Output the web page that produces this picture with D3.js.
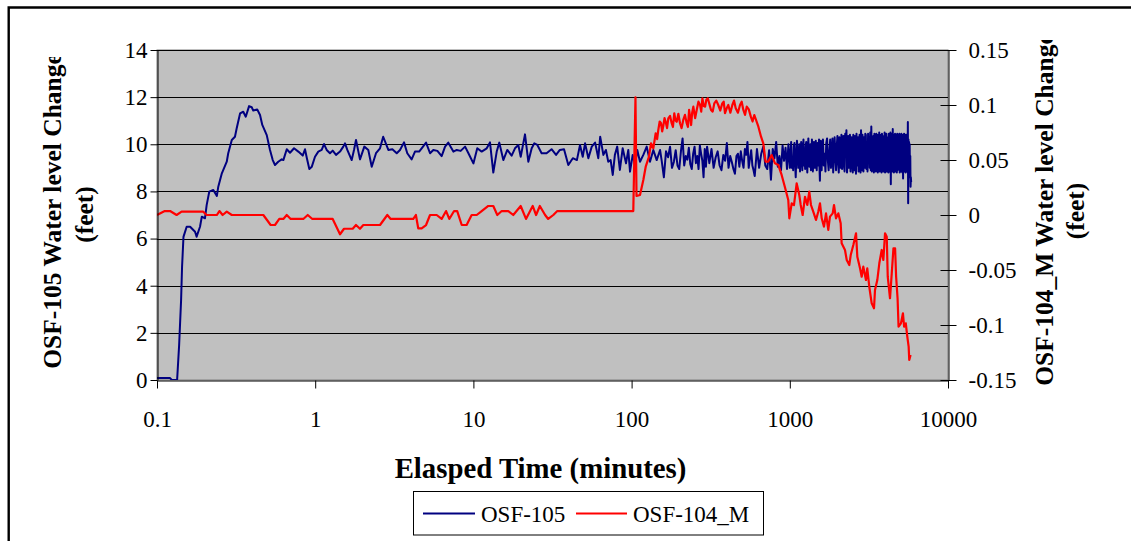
<!DOCTYPE html>
<html><head><meta charset="utf-8">
<script src="https://cdn.jsdelivr.net/npm/d3@7"></script>
<style>
body{margin:0;background:#fff;}
svg{display:block;font-family:"Liberation Serif","Times New Roman",serif;}
</style>
</head><body>
<svg id="chart" width="1131" height="541"></svg>
<script>
// ---------- data ----------
const xTicks = [0.1, 1, 10, 100, 1000, 10000];
const xTickLabels = ["0.1", "1", "10", "100", "1000", "10000"];
const leftTicks = [0, 2, 4, 6, 8, 10, 12, 14];
const rightTicks = [-0.15, -0.1, -0.05, 0, 0.05, 0.1, 0.15];
const rightTickLabels = ["-0.15", "-0.1", "-0.05", "0", "0.05", "0.1", "0.15"];
const seriesNames = ["OSF-105", "OSF-104_M"];
const xTitle = "Elasped Time (minutes)";
const leftTitle = ["OSF-105 Water level Change", "(feet)"];
const rightTitle = ["OSF-104_M Water level Change", "(feet)"];

// OSF-105: [elapsed minutes, water level change (feet)] - left axis
const osf105 = [
[0.100,0.08],[0.121,0.08],[0.124,0],[0.134,0],[0.138,1.48],[0.142,3.39],[0.144,4.79],[0.147,6.07],[0.154,6.50],[0.162,6.50],
[0.174,6.29],[0.178,6.08],[0.187,6.50],[0.192,6.93],[0.201,6.86],[0.206,7.42],[0.214,7.99],[0.227,8.06],[0.239,7.81],[0.244,8.20],
[0.257,8.77],[0.276,9.26],[0.282,9.62],[0.297,10.18],[0.311,10.32],[0.319,10.68],[0.335,11.31],[0.351,11.38],[0.364,11.17],[0.382,11.62],
[0.397,11.57],[0.406,11.43],[0.430,11.48],[0.448,11.24],[0.463,10.82],[0.494,10.39],[0.518,9.76],[0.539,9.33],[0.557,9.12],[0.584,9.26],
[0.614,9.36],[0.629,9.33],[0.661,9.79],[0.693,9.64],[0.735,9.83],[0.782,9.69],[0.834,9.52],[0.862,9.79],[0.886,9.41],[0.918,8.95],
[0.952,9.05],[0.997,9.47],
[1.046,9.69],[1.099,9.76],[1.137,10.01],[1.182,9.76],[1.240,9.62],[1.29,9.73],[1.354,9.55],[1.435,9.69],[1.505,9.90],[1.543,10.04],
[1.596,9.76],[1.701,9.33],[1.759,9.76],[1.811,10.18],[1.919,9.36],[2.044,9.90],[2.166,9.76],[2.277,9.05],[2.423,9.62],[2.569,9.83],
[2.69,10.32],[2.90,9.76],[3.075,9.79],[3.276,9.62],[3.436,9.76],[3.643,10.08],[3.82,9.62],[4.07,9.36],[4.273,9.69],[4.54,9.69],
[4.71,9.83],[5.02,10.07],[5.32,9.62],[5.58,9.76],[5.92,9.72],[6.30,9.50],[6.62,9.90],[6.94,10.07],[7.47,9.69],[7.85,9.76],
[8.31,9.72],[8.86,9.90],[9.30,9.62],[10.0,9.19],
[10.58,9.83],[11.28,9.69],[12.14,9.83],[12.73,10.08],[13.36,8.80],[14.04,9.69],[14.58,10.07],[15.46,9.33],[16.38,9.76],[17.45,9.52],
[18.32,9.83],[19.23,9.97],[19.91,9.47],[21.19,10.42],[22.24,9.26],[23.36,9.83],[24.27,10.04],[25.36,9.97],[26.99,9.62],[29.0,9.62],
[31.2,9.79],[33.3,9.55],[35.2,9.76],[37.4,9.79],[39.8,9.12],[42.5,9.41],[45.1,9.33],[47.2,9.97],[49.1,9.47],[50.8,10.04],
[53.3,9.41],[56.0,9.90],[58.8,10.07],[61.6,9.41],[63.3,10.32],[66.3,9.55],[68.8,9.76],[71.2,9.26],[73.7,9.33],[76.0,8.70],
[78.4,9.55],[81.1,9.90],[84.3,8.91],[87.8,9.83],[92.2,9.19],[95.3,9.76],[97.7,8.84],
[101.6,9.55],[105.1,9.12],[108.6,9.76],[113,9.26],[118.6,9.55],[124.6,9.90],[130.7,9.26],[137.2,9.76],[144.1,9.33],[151.3,9.76],
[155,9.3],[160,8.6],[165,9.7],[170,9.45],[175,9.9],[180,9.0],[185,9.25],[190,9.75],[195,9.1],[200,8.95],
[205,9.7],[210,10.25],[215,9.1],[220,9.5],[225,9.35],[230,9.85],[235,9.15],[240,8.95],[245,9.6],[250,9.9],
[255,9.2],[260,9.5],[265,8.95],[270,9.95],[275,9.6],[280,9.3],[285,8.6],[290,9.8],[295,9.05],[300,9.9],
[310,9.2],[320,9.8],[330,9.0],[340,9.45],[350,9.7],[360,9.1],[370,8.9],[380,9.55],[390,9.3],[400,10.05],
[410,9.0],[420,9.5],[430,9.25],[440,8.95],[450,8.75],[460,9.5],[470,9.6],[480,9.05],[490,9.7],[500,9.3],
[510,9.0],[520,9.8],[530,9.55],[540,10.1],[550,9.0],[560,9.4],[570,9.75],[580,9.1],[590,8.9],[600,8.65],
[620,9.8],[640,9.0],[660,9.6],[680,9.9],[700,9.1],[720,8.95],[740,9.75],[760,8.5],[780,9.8],[800,9.4],
[820,10.1],[840,9.05],[860,9.5],[880,8.9],[900,9.95],[920,9.3],[940,9.85],[960,8.95],[980,10.0],[1000,9.0],
[1010,9.6],[1020,10.1],[1030,9.0],[1040,9.4],[1050,8.9],[1060,9.9],[1070,10.05],[1080,9.2],[1090,8.6],[1100,9.5],
[1110,10.15],[1120,9.7],[1130,9.0],[1140,9.3],[1150,10.0],[1160,8.85],[1170,9.6],[1180,10.1],[1190,9.4],[1200,8.9],
[1210,9.8],[1220,10.2],[1230,9.1],[1240,9.55],[1250,8.95],[1260,9.9],[1270,10.1],[1280,9.3],[1290,8.8],[1300,9.65],
[1310,10.25],[1320,9.5],[1330,9.05],[1340,9.85],[1350,10.0],[1360,8.9],[1370,9.4],[1380,10.2],[1390,9.7],[1400,8.85],
[1410,9.6],[1420,10.1],[1430,9.2],[1440,9.0],[1450,9.95],[1460,10.15],[1470,9.35],[1480,8.9],[1490,9.75],[1500,10.05],
[1510,9.1],[1520,9.5],[1530,10.2],[1540,9.0],[1550,8.45],[1560,9.6],[1570,10.15],[1580,9.4],[1590,8.9],[1600,9.8],
[1620,10.2],[1640,9.1],[1660,9.6],[1680,8.85],[1700,10.05],[1720,10.25],[1740,9.3],[1760,8.9],[1780,9.7],[1800,10.2],
[1820,9.0],[1840,9.5],[1860,10.25],[1880,8.8],[1900,9.4],[1920,10.3],[1940,9.65],[1960,8.9],[1980,9.9],[2000,10.35],
[2020,9.2],[2040,8.8],[2060,10.3],[2080,9.6],[2100,9.0],[2120,10.4],[2140,8.95],[2160,9.7],[2180,10.35],[2200,9.1],
[2220,8.85],[2240,10.45],[2260,9.5],[2280,10.6],[2300,8.8],[2320,9.4],[2340,10.35],[2360,9.0],[2380,9.8],[2400,10.4],
[2420,8.85],[2440,9.3],[2460,10.3],[2480,9.7],[2500,8.8],[2520,10.4],[2540,9.2],[2560,8.9],[2580,10.35],[2600,9.55],
[2620,8.75],[2640,10.45],[2660,9.1],[2680,9.9],[2700,10.3],[2720,8.85],[2740,9.5],[2760,10.4],[2780,9.0],[2800,8.8],
[2820,10.6],[2840,9.3],[2860,8.9],[2880,10.4],[2900,9.75],[2920,8.85],[2940,10.3],[2960,9.4],[2980,9.0],[3000,10.45],
[3025,10.4],[3050,8.95],[3075,9.9],[3100,8.85],[3125,10.45],[3150,9.3],[3175,10.3],[3200,9.0],[3225,10.5],[3250,8.9],
[3275,10.75],[3300,8.85],[3325,9.8],[3350,8.95],[3375,10.35],[3400,8.8],[3425,10.45],[3450,9.4],[3475,10.3],[3500,8.85],
[3525,10.45],[3550,8.9],[3575,10.4],[3600,8.8],[3625,9.7],[3650,9.0],[3675,10.5],[3700,8.85],[3725,10.4],[3750,9.35],
[3775,10.3],[3800,8.8],[3825,10.45],[3850,8.9],[3875,9.85],[3900,8.85],[3925,10.35],[3950,9.0],[3975,10.5],[4000,8.8],
[4025,10.4],[4050,9.3],[4075,10.45],[4100,8.85],[4125,10.3],[4150,8.9],[4175,9.9],[4200,8.8],[4225,10.45],[4250,9.0],
[4275,10.35],[4300,8.85],[4325,10.5],[4350,8.3],[4375,10.4],[4400,8.9],[4425,10.45],[4450,8.85],[4475,10.65],[4500,8.95],
[4525,10.4],[4550,8.8],[4575,9.8],[4600,8.9],[4625,10.45],[4650,8.85],[4675,10.4],[4700,9.0],[4725,10.35],[4750,8.8],
[4775,10.45],[4800,8.9],[4825,10.4],[4850,9.3],[4875,10.3],[4900,8.95],[4925,10.45],[4950,8.8],[4975,10.4],[5000,8.9],
[5025,10.35],[5050,8.85],[5075,10.45],[5100,8.9],[5125,10.4],[5150,8.8],[5175,10.35],[5200,8.55],[5225,10.4],[5250,8.9],
[5275,10.45],[5300,8.85],[5325,10.3],[5350,8.9],[5375,10.4],[5400,8.8],[5425,10.35],[5450,8.95],[5475,10.4],[5500,8.85],
[5525,10.3],[5550,8.9],[5575,10.95],[5600,7.5],[5625,10.2],[5650,8.6],[5675,10.1],[5700,8.9],[5725,10.0],[5750,8.7],
[5775,9.5],[5800,8.2],[5825,8.6],[5850,8.4]
];

// OSF-104_M: [elapsed minutes, water level change (feet)] - right axis
const osf104 = [
[0.100,0.0],[0.112,0.0036],[0.121,0.0036],[0.133,0.0],[0.143,0.003],[0.196,0.003],[0.206,0.0],[0.239,0.0],[0.248,0.0036],[0.260,0.0],
[0.276,0.003],[0.297,0.0],[0.470,0.0],[0.523,-0.0091],[0.557,-0.0091],[0.593,-0.0036],[0.629,-0.0036],[0.661,0.0],[0.700,-0.0036],[0.841,-0.0036],
[0.897,0.0],[0.959,-0.0036],[1.29,-0.0036],[1.435,-0.0175],[1.521,-0.0125],[1.726,-0.0125],[1.811,-0.0091],[1.919,-0.0125],[2.014,-0.0091],[2.569,-0.0091],
[2.856,0.0],[3.0,-0.0036],[4.17,-0.0036],[4.33,0.0],[4.48,-0.0121],[4.71,-0.0121],[5.02,-0.0091],[5.32,0.0],[5.86,0.0],[6.30,-0.0036],
[6.72,0.0036],[7.04,-0.0036],[7.55,0.0036],[7.90,0.0036],[8.44,-0.0091],[9.06,-0.0091],[9.75,0.0],[10.49,0.0],[11.28,0.0036],[12.42,0.0082],
[13.36,0.0082],[14.16,0.0],[15.10,0.0036],[16.62,0.0036],[17.86,0.0],[19.91,0.0082],[21.5,-0.0036],[23.7,0.0082],[24.9,0.0],[26.3,0.0082],
[28.4,0.0],[29.7,-0.0036],[32.0,0.0],[33.9,0.0036],[102.5,0.0036],[105.8,0.107],[107.4,0.0173],[113,0.0182],[118.6,0.0318],[122.8,0.0439],
[128.8,0.053],[132.7,0.0652],[137.2,0.0606],[142.0,0.0743],[145,0.069],[147.5,0.0773],[150.5,0.085],[153.4,0.0834],[156,0.076],[158.6,0.0809],
[161.5,0.088],[164.2,0.0848],[167.5,0.079],[170.6,0.0879],[175,0.09],[179.2,0.0834],[182.5,0.08],[186.1,0.0925],[189.5,0.086],[192.9,0.0848],
[197.5,0.092],[202.3,0.0834],[207,0.079],[212.1,0.0864],[217.5,0.091],[223.0,0.0834],[227,0.08],[230.9,0.0955],[234.5,0.089],[237.8,0.0818],
[241.5,0.093],[245.6,0.0985],[252,0.088],[258.0,0.0955],[264.5,0.103],[270.9,0.1],[275.5,0.094],[280.2,0.1061],[286,0.099],[291.6,0.0985],
[297,0.105],[303.1,0.1061],[310,0.101],[317.7,0.0955],[325.5,0.094],[333.3,0.1015],[343,0.104],[353.0,0.1],[363.5,0.095],[374.3,0.1015],
[382,0.103],[389.4,0.0925],[399,0.097],[408.6,0.1],[421,0.093],[433.4,0.1],[444,0.104],[455.1,0.097],[470,0.093],[484.5,0.1],
[496.5,0.103],[508.6,0.0955],[521.5,0.091],[534.3,0.0985],[550.5,0.096],[567.0,0.0894],[581.5,0.085],[596.6,0.0909],[633,0.0803],[658,0.0712],
[680,0.0652],[703,0.0485],[730,0.0485],[768,0.0545],[806,0.047],[845,0.0455],[888,0.0364],[930,0.0257],[978,0.0136],[993,-0.003],
[1028,0.0106],[1063,0.0091],[1105,0.0288],[1148,0.0182],[1172,0.0091],[1206,0.0],[1248,0.0166],[1290,0.0091],[1328,0.0212],[1361,0.0091],
[1407,0.003],[1464,-0.0045],[1513,0.003],[1552,0.0106],[1591,-0.003],[1645,-0.0106],[1694,0.0015],[1751,-0.0136],[1795,-0.0015],[1867,0.0015],
[1903,0.0091],[1959,-0.003],[2026,0.0015],[2097,-0.0075],[2127,-0.0257],[2233,-0.0318],[2290,-0.0409],[2377,-0.0455],[2427,-0.0364],[2521,-0.0273],
[2622,-0.0166],[2672,-0.0379],[2779,-0.0485],[2847,-0.0561],[2915,-0.047],[3030,-0.0591],[3088,-0.0485],[3180,-0.0652],[3294,-0.0803],[3406,-0.0848],
[3456,-0.0682],[3574,-0.0591],[3680,-0.0439],[3810,-0.0318],[3903,-0.0409],[4000,-0.0166],[4100,-0.0197],[4160,-0.0561],[4300,-0.0757],[4410,-0.053],
[4520,-0.0303],[4630,-0.0303],[4700,-0.0561],[4800,-0.0757],[4870,-0.1015],[5040,-0.0985],[5190,-0.0894],[5280,-0.1015],[5410,-0.0985],[5530,-0.1106],
[5640,-0.1197],[5690,-0.1318],[5800,-0.1273]
];

// ---------- layout ----------
const W = 1131, H = 541;
const plot = {left: 157, right: 948, top: 50, bottom: 380};
const fontTick = 23, fontTitle = 25.5;

const svg = d3.select("#chart");
const x = d3.scaleLog().domain([0.1, 10000]).range([plot.left, plot.right]);
const yL = d3.scaleLinear().domain([0, 14]).range([plot.bottom, plot.top]);
const yR = d3.scaleLinear().domain([-0.15, 0.15]).range([plot.bottom, plot.top]);

// outer frame (top and left edge visible)
svg.append("path").attr("d", `M8.7,${H} V7.5 H${W}`)
  .attr("fill", "none").attr("stroke", "#000").attr("stroke-width", 2.4);

// plot area
svg.append("rect").attr("x", plot.left).attr("y", plot.top)
  .attr("width", plot.right - plot.left).attr("height", plot.bottom - plot.top)
  .attr("fill", "#c0c0c0").attr("stroke", "#808080").attr("stroke-width", 1);

// gridlines
svg.append("g").selectAll("line").data(leftTicks.filter(d => d > 0)).join("line")
  .attr("x1", plot.left).attr("x2", plot.right)
  .attr("y1", d => Math.round(yL(d)) + 0.5).attr("y2", d => Math.round(yL(d)) + 0.5)
  .attr("stroke", "#000").attr("stroke-width", 1);

// clip for data
svg.append("clipPath").attr("id", "plotclip").append("rect")
  .attr("x", plot.left).attr("y", plot.top - 2)
  .attr("width", plot.right - plot.left).attr("height", plot.bottom - plot.top + 2);

const lineL = d3.line().x(d => x(d[0])).y(d => yL(d[1]));
const lineR = d3.line().x(d => x(d[0])).y(d => yR(d[1]));
const colors = ["#000080", "#ff0000"];

const gData = svg.append("g").attr("clip-path", "url(#plotclip)");
gData.append("path").datum(osf105).attr("d", lineL)
  .attr("fill", "none").attr("stroke", colors[0]).attr("stroke-width", 2).attr("stroke-linejoin", "round");
gData.append("path").datum(osf104).attr("d", lineR)
  .attr("fill", "none").attr("stroke", colors[1]).attr("stroke-width", 2.2).attr("stroke-linejoin", "round");

// axes
function styleAxis(g) {
  g.selectAll("text").attr("font-size", fontTick).attr("fill", "#000")
    .attr("font-family", "'Liberation Serif','Times New Roman',serif");
  g.selectAll("line").attr("stroke", "#000");
  g.select(".domain").attr("stroke", "#000");
}
const axL = svg.append("g").attr("transform", `translate(${plot.left + 0.5},0)`)
  .call(d3.axisLeft(yL).tickValues(leftTicks).tickSize(7).tickSizeOuter(0).tickPadding(3).tickFormat(d3.format("d")));
styleAxis(axL);

const axR = svg.append("g").attr("transform", `translate(${plot.right + 0.5},0)`)
  .call(d3.axisRight(yR).tickValues(rightTicks).tickSize(8).tickSizeOuter(0).tickPadding(12)
    .tickFormat((d, i) => rightTickLabels[i]));
axR.selectAll(".tick line").attr("x1", -8).attr("x2", 8);
styleAxis(axR);

const axB = svg.append("g").attr("transform", `translate(0,${plot.bottom + 0.5})`)
  .call(d3.axisBottom(x).tickValues(xTicks).tickSize(8).tickSizeOuter(0).tickPadding(22)
    .tickFormat((d, i) => xTickLabels[i]));
styleAxis(axB);

// x title
svg.append("text").attr("x", 540.5).attr("y", 478).attr("text-anchor", "middle")
  .attr("font-size", 28.8).attr("font-weight", "bold").text(xTitle);

// y titles (clipped at top like the original)
svg.append("clipPath").attr("id", "lclip").append("rect").attr("x", 0).attr("y", 57).attr("width", 150).attr("height", 400);
svg.append("clipPath").attr("id", "rclip").append("rect").attr("x", 1000).attr("y", 40).attr("width", 131).attr("height", 400);

const gLT = svg.append("g").attr("clip-path", "url(#lclip)");
gLT.append("text").attr("transform", "translate(61,211) rotate(-90)").attr("text-anchor", "middle")
  .attr("font-size", fontTitle).attr("font-weight", "bold").text(leftTitle[0]);
gLT.append("text").attr("transform", "translate(93,214.5) rotate(-90)").attr("text-anchor", "middle")
  .attr("font-size", fontTitle).attr("font-weight", "bold").text(leftTitle[1]);

const gRT = svg.append("g").attr("clip-path", "url(#rclip)");
gRT.append("text").attr("transform", "translate(1053,209.5) rotate(-90)").attr("text-anchor", "middle")
  .attr("font-size", fontTitle).attr("font-weight", "bold").text(rightTitle[0]);
gRT.append("text").attr("transform", "translate(1084,211) rotate(-90)").attr("text-anchor", "middle")
  .attr("font-size", fontTitle).attr("font-weight", "bold").text(rightTitle[1]);

// legend
const lg = svg.append("g");
lg.append("rect").attr("x", 413.5).attr("y", 491.5).attr("width", 350).attr("height", 43.5)
  .attr("fill", "#fff").attr("stroke", "#000").attr("stroke-width", 1);
const legendItems = [
  {name: seriesNames[0], color: colors[0], x0: 423, x1: 475, tx: 481},
  {name: seriesNames[1], color: colors[1], x0: 576, x1: 627, tx: 633}
];
legendItems.forEach(it => {
  lg.append("line").attr("x1", it.x0).attr("x2", it.x1).attr("y1", 513.5).attr("y2", 513.5)
    .attr("stroke", it.color).attr("stroke-width", 2);
  lg.append("text").attr("x", it.tx).attr("y", 521.5).attr("font-size", fontTick).text(it.name);
});
</script>
</body></html>
